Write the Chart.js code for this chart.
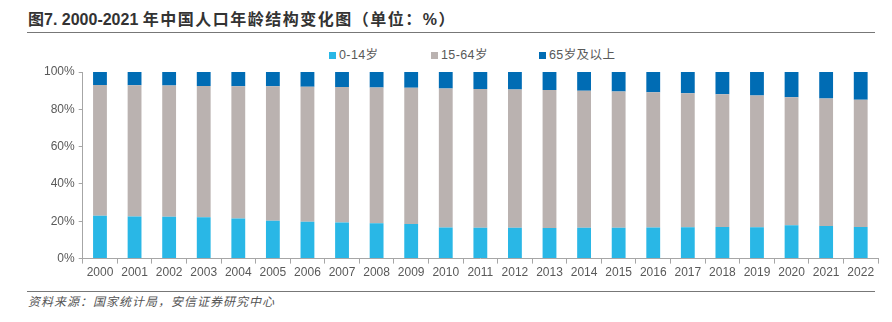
<!DOCTYPE html>
<html>
<head>
<meta charset="utf-8">
<script src="https://cdn.jsdelivr.net/npm/chart.js@4"></script>
<style>
    body { margin: 0; background: #fff; font-family: "Liberation Sans", "Noto Sans CJK SC", sans-serif; }
    #wrap { position: relative; width: 892px; height: 322px; }
    #title { position: absolute; left: 28px; top: 6px; font-size: 16px; font-weight: bold; color: #333; white-space: nowrap; }
    #title .cn { letter-spacing: 1.5px; }
    #topLine { position: absolute; left: 27px; top: 32px; width: 848px; height: 0; border-top: 1.5px solid #777; }
    #bottomLine { position: absolute; left: 27px; top: 291px; width: 848px; height: 0; border-top: 1.5px solid #777; }
    #source { position: absolute; left: 28px; top: 292px; font-size: 12px; font-style: italic; color: #555; letter-spacing: 1px; white-space: nowrap; }
    #chartBox { position: absolute; left: 0; top: 40px; width: 892px; height: 242px; }
    .lg { position: absolute; top: 44px; font-size: 12.5px; color: #595959; white-space: nowrap; letter-spacing: 0.4px; }
    .lg i { display: inline-block; width: 7px; height: 7px; margin-right: 3px; vertical-align: 0px; }
</style>
</head>
<body>
<div id="wrap">
    <div id="title">图7. 2000-2021 <span class="cn">年中国人口年龄结构变化图（单位：%）</span></div>
    <div id="topLine"></div>
    <div id="legend"></div>
    <div id="chartBox"><canvas id="ageChart"></canvas></div>
    <div id="bottomLine"></div>
    <div id="source">资料来源：国家统计局，安信证券研究中心</div>
</div>
<script>
// Years
const years = ['2000', '2001', '2002', '2003', '2004', '2005', '2006', '2007', '2008', '2009', '2010',
    '2011', '2012', '2013', '2014', '2015', '2016', '2017', '2018', '2019', '2020', '2021', '2022'];

// Share of population (%)
const age0to14 = [22.9, 22.5, 22.4, 22.1, 21.5, 20.3, 19.8, 19.4, 19.0, 18.5, 16.6,
    16.5, 16.5, 16.4, 16.5, 16.5, 16.7, 16.8, 16.9, 16.8, 17.9, 17.5, 16.9];
const age65plus = [7.0, 7.1, 7.3, 7.5, 7.6, 7.7, 7.9, 8.1, 8.3, 8.5, 8.9,
    9.1, 9.4, 9.7, 10.1, 10.5, 10.8, 11.4, 11.9, 12.6, 13.5, 14.2, 14.9];
const age15to64 = [70.1, 70.4, 70.3, 70.4, 70.9, 72.0, 72.3, 72.5, 72.7, 73.0, 74.5,
    74.4, 74.1, 73.9, 73.4, 73.0, 72.5, 71.8, 71.2, 70.6, 68.6, 68.3, 68.2];

const seriesNames = ['0-14岁', '15-64岁', '65岁及以上'];
const seriesColors = ['#29b7e6', '#bab2b0', '#006cb4'];

const tickColor = '#595959';
const axisColor = '#a6a6a6';
const fontFamily = '"Liberation Sans", "Noto Sans CJK SC", sans-serif';

// Legend (html, placed like the original)
const legendX = [329, 431, 539];
const legendDiv = document.getElementById('legend');
seriesNames.forEach((name, i) => {
    const el = document.createElement('div');
    el.className = 'lg';
    el.style.left = legendX[i] + 'px';
    el.innerHTML = `<i style="background:${seriesColors[i]}"></i>${name}`;
    legendDiv.appendChild(el);
});

const ctx = document.getElementById('ageChart').getContext('2d');

new Chart(ctx, {
    type: 'bar',
    data: {
        labels: years,
        datasets: [
            { label: seriesNames[0], data: age0to14, backgroundColor: seriesColors[0] },
            { label: seriesNames[1], data: age15to64, backgroundColor: seriesColors[1] },
            { label: seriesNames[2], data: age65plus, backgroundColor: seriesColors[2] }
        ]
    },
    options: {
        responsive: true,
        maintainAspectRatio: false,
        animation: false,
        datasets: {
            bar: { categoryPercentage: 1, barPercentage: 0.4, borderWidth: 0 }
        },
        layout: { padding: { left: 40, right: 14, top: 32, bottom: 0 } },
        scales: {
            x: {
                stacked: true,
                grid: { display: true, drawOnChartArea: false, drawTicks: true, tickLength: 5, color: axisColor },
                border: { color: axisColor },
                ticks: { color: tickColor, font: { size: 12, family: fontFamily }, maxRotation: 0, autoSkip: false, padding: 2 }
            },
            y: {
                stacked: true,
                min: 0,
                max: 100,
                grid: { display: true, drawOnChartArea: false, drawTicks: true, tickLength: 4, color: axisColor },
                border: { color: axisColor },
                ticks: {
                    stepSize: 20,
                    color: tickColor,
                    font: { size: 12, family: fontFamily },
                    padding: 4,
                    callback: v => v + '%'
                }
            }
        },
        plugins: {
            legend: { display: false },
            tooltip: { enabled: false }
        }
    }
});
</script>
</body>
</html>
